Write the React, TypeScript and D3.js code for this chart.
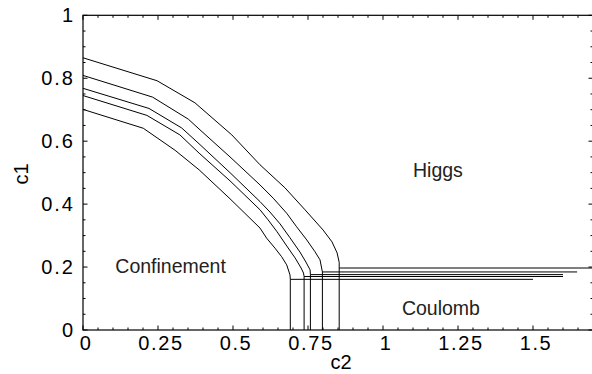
import React from "react";
import * as d3 from "d3";

const W = 592;
const H = 374;

// Phase boundary curves [c2, c1]
const curve1: [number, number][] = [
  [0, 0.865], [0.247, 0.792], [0.373, 0.722], [0.496, 0.62], [0.59, 0.525],
  [0.673, 0.452], [0.74, 0.382], [0.8, 0.318], [0.83, 0.28], [0.847, 0.245],
  [0.854, 0.215], [0.854, 0.197],
];
const curve2: [number, number][] = [
  [0, 0.809], [0.232, 0.74], [0.351, 0.67], [0.39, 0.636], [0.49, 0.55],
  [0.59, 0.461], [0.634, 0.419], [0.679, 0.371], [0.712, 0.328], [0.746, 0.286],
  [0.773, 0.249], [0.79, 0.223], [0.798, 0.1845],
];
const curve3: [number, number][] = [
  [0, 0.768], [0.22, 0.704], [0.329, 0.642], [0.39, 0.589], [0.49, 0.5],
  [0.59, 0.408], [0.623, 0.375], [0.657, 0.337], [0.69, 0.293], [0.723, 0.248],
  [0.743, 0.216], [0.757, 0.191], [0.758, 0.176],
];
const curve4: [number, number][] = [
  [0, 0.745], [0.213, 0.682], [0.323, 0.62], [0.387, 0.562], [0.49, 0.474],
  [0.59, 0.382], [0.617, 0.35], [0.647, 0.312], [0.677, 0.27], [0.707, 0.229],
  [0.727, 0.197], [0.735, 0.181], [0.737, 0.17],
];
const curve5: [number, number][] = [
  [0, 0.701], [0.201, 0.641], [0.307, 0.571], [0.387, 0.509], [0.49, 0.417],
  [0.59, 0.324], [0.612, 0.292], [0.64, 0.26], [0.662, 0.233], [0.679, 0.207],
  [0.69, 0.175], [0.691, 0.161],
];
const curves = [curve1, curve2, curve3, curve4, curve5];
// right end of the horizontal (Higgs/Coulomb) line for each curve
const horizEnds = [1.7, 1.647, 1.6, 1.6, 1.5];

const xTicks = [0, 0.25, 0.5, 0.75, 1, 1.25, 1.5];
const xTickLabels = ["0", "0.25", "0.5", "0.75", "1", "1.25", "1.5"];
const yTicks = [0, 0.2, 0.4, 0.6, 0.8, 1];
const yTickLabels = ["0", "0.2", "0.4", "0.6", "0.8", "1"];

const regionLabels = [
  { text: "Higgs", c2: 1.183, c1: 0.486 },
  { text: "Confinement", c2: 0.292, c1: 0.181 },
  { text: "Coulomb", c2: 1.193, c1: 0.048 },
];

export default function App() {
  const left = 83, right = 593, top = 15.3, bottom = 330;
  const x = d3.scaleLinear().domain([0, 1.7]).range([left, right]);
  const y = d3.scaleLinear().domain([0, 1]).range([bottom, top]);
  const line = d3.line<[number, number]>().x(d => x(d[0])).y(d => y(d[1]));

  const xMinor = d3.range(0, 1.7001, 0.05);
  const yMinor = d3.range(0, 1.0001, 0.05);
  const isMajorX = (v: number) => xTicks.some(t => Math.abs(t - v) < 1e-6);
  const isMajorY = (v: number) => yTicks.some(t => Math.abs(t - v) < 1e-6);
  const font = "'Liberation Sans', Arial, Helvetica, sans-serif";

  return (
    <svg width={W} height={H} style={{ position: "absolute", left: 0, top: 0, background: "#fff" }}>
      <defs>
        <clipPath id="plot">
          <rect x={left} y={top} width={right - left} height={bottom - top} />
        </clipPath>
      </defs>
      <g clipPath="url(#plot)" fill="none" stroke="#000" strokeWidth={1}>
        {curves.map((c, i) => {
          const end = c[c.length - 1];
          return (
            <g key={i}>
              <path d={line(c) || ""} />
              <path d={line([[end[0], end[1]], [end[0], 0]]) || ""} />
              <path d={line([[end[0], end[1]], [horizEnds[i], end[1]]]) || ""} />
            </g>
          );
        })}
      </g>
      {/* frame */}
      <rect x={left} y={top} width={right - left} height={bottom - top} fill="none" stroke="#000" strokeWidth={1.2} />
      {/* ticks */}
      <g stroke="#000" strokeWidth={1}>
        {xMinor.map((v, i) => {
          const len = isMajorX(v) ? 4.5 : 2.5;
          return (
            <g key={"x" + i}>
              <line x1={x(v)} x2={x(v)} y1={bottom} y2={bottom - len} />
              <line x1={x(v)} x2={x(v)} y1={top} y2={top + len} />
            </g>
          );
        })}
        {yMinor.map((v, i) => {
          const len = isMajorY(v) ? 4.5 : 2.5;
          return (
            <g key={"y" + i}>
              <line x1={left} x2={left + len} y1={y(v)} y2={y(v)} />
              <line x1={right} x2={right - len} y1={y(v)} y2={y(v)} />
            </g>
          );
        })}
      </g>
      {/* tick labels */}
      <g fontFamily={font} fontSize={20} fill="#000">
        {xTicks.map((v, i) => (
          <text key={"xl" + i} x={x(v) + 3} y={350} textAnchor="middle" letterSpacing={1.6}>
            {xTickLabels[i]}
          </text>
        ))}
        {yTicks.map((v, i) => (
          <text key={"yl" + i} x={75} y={y(v) + 7} textAnchor="end" letterSpacing={2}>
            {yTickLabels[i]}
          </text>
        ))}
      </g>
      {/* axis titles */}
      <text x={341} y={369} textAnchor="middle" fontFamily={font} fontSize={20}>c2</text>
      <text transform="translate(28,174) rotate(-90)" textAnchor="middle" fontFamily={font} fontSize={20}>c1</text>
      {/* region labels */}
      <g fontFamily={font} fontSize={19.5} fill="#222">
        {regionLabels.map((r, i) => (
          <text key={i} x={x(r.c2)} y={y(r.c1)} textAnchor="middle">
            {r.text}
          </text>
        ))}
      </g>
    </svg>
  );
}
